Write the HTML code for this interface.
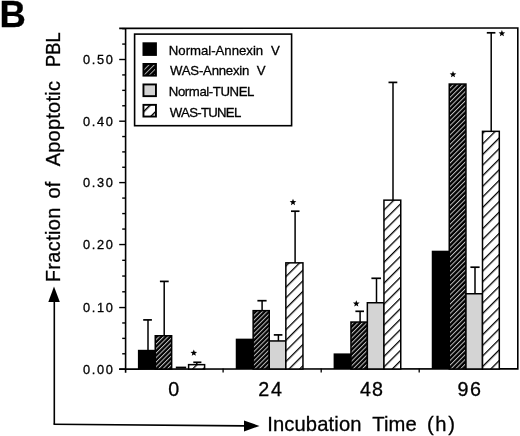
<!DOCTYPE html>
<html><head><meta charset="utf-8"><title>Fraction of Apoptotic PBL</title>
<style>html,body{margin:0;padding:0;background:#fff;width:520px;height:436px;overflow:hidden}svg{display:block;filter:blur(0.3px)}text{white-space:pre}</style>
</head><body>
<svg width="520" height="436" viewBox="0 0 520 436">
<defs><pattern id="pL2" patternUnits="userSpaceOnUse" x="0.020" y="0" width="3.677" height="10" patternTransform="rotate(45)"><rect x="0" y="0" width="3.677" height="10" fill="#000"/><rect x="0" y="0" width="0.95" height="10" fill="#a8a8a8"/></pattern><pattern id="pL4" patternUnits="userSpaceOnUse" x="1.608" y="0" width="8.485" height="10" patternTransform="rotate(45)"><rect x="0" y="0" width="8.485" height="10" fill="#fff"/><rect x="0" y="0" width="1.45" height="10" fill="#000"/></pattern><pattern id="pA0" patternUnits="userSpaceOnUse" x="3.177" y="0" width="3.182" height="10" patternTransform="rotate(45)"><rect x="0" y="0" width="3.182" height="10" fill="#000"/><rect x="0" y="0" width="1.0" height="10" fill="#c0c0c0"/></pattern><pattern id="pA1" patternUnits="userSpaceOnUse" x="1.268" y="0" width="3.182" height="10" patternTransform="rotate(45)"><rect x="0" y="0" width="3.182" height="10" fill="#000"/><rect x="0" y="0" width="1.0" height="10" fill="#c0c0c0"/></pattern><pattern id="pA2" patternUnits="userSpaceOnUse" x="2.541" y="0" width="3.253" height="10" patternTransform="rotate(45)"><rect x="0" y="0" width="3.253" height="10" fill="#000"/><rect x="0" y="0" width="1.0" height="10" fill="#c0c0c0"/></pattern><pattern id="pA3" patternUnits="userSpaceOnUse" x="1.056" y="0" width="3.323" height="10" patternTransform="rotate(45)"><rect x="0" y="0" width="3.323" height="10" fill="#000"/><rect x="0" y="0" width="1.0" height="10" fill="#c0c0c0"/></pattern><pattern id="pT0" patternUnits="userSpaceOnUse" x="6.704" y="0" width="7.495" height="10" patternTransform="rotate(45)"><rect x="0" y="0" width="7.495" height="10" fill="#fff"/><rect x="0" y="0" width="1.3" height="10" fill="#000"/></pattern><pattern id="pT1" patternUnits="userSpaceOnUse" x="6.605" y="0" width="7.509" height="10" patternTransform="rotate(45)"><rect x="0" y="0" width="7.509" height="10" fill="#fff"/><rect x="0" y="0" width="1.3" height="10" fill="#000"/></pattern><pattern id="pT2" patternUnits="userSpaceOnUse" x="5.177" y="0" width="7.396" height="10" patternTransform="rotate(45)"><rect x="0" y="0" width="7.396" height="10" fill="#fff"/><rect x="0" y="0" width="1.3" height="10" fill="#000"/></pattern><pattern id="pT3" patternUnits="userSpaceOnUse" x="0.199" y="0" width="7.495" height="10" patternTransform="rotate(45)"><rect x="0" y="0" width="7.495" height="10" fill="#fff"/><rect x="0" y="0" width="1.3" height="10" fill="#000"/></pattern></defs>
<g font-family="'Liberation Sans', sans-serif" fill="#000" stroke="#000" stroke-width="0.3">
<text x="-0.40" y="26.80" font-size="36.5" font-weight="bold">B</text>
<text transform="translate(60.30,282.20) rotate(-90)" font-size="20.0" textLength="74.65" lengthAdjust="spacing">Fraction</text>
<text transform="translate(60.30,198.40) rotate(-90)" font-size="20.0" textLength="16.79" lengthAdjust="spacing">of</text>
<text transform="translate(60.30,166.30) rotate(-90)" font-size="20.0" textLength="85.19" lengthAdjust="spacing">Apoptotic</text>
<text transform="translate(60.30,66.93) rotate(-90)" font-size="20.0" textLength="34.57" lengthAdjust="spacingAndGlyphs">PBL</text>
<text x="267.20" y="431.30" font-size="20.2" textLength="94.27" lengthAdjust="spacing">Incubation</text>
<text x="372.20" y="431.30" font-size="20.2" textLength="44.62" lengthAdjust="spacing">Time</text>
<text x="427.00" y="431.30" font-size="20.2" textLength="27.89" lengthAdjust="spacing">(h)</text>
<text x="168.20" y="395.80" font-size="19.7">0</text>
<text x="258.30" y="395.80" font-size="19.7" textLength="23.61" lengthAdjust="spacing">24</text>
<text x="359.90" y="395.80" font-size="19.7" textLength="23.01" lengthAdjust="spacing">48</text>
<text x="457.50" y="395.80" font-size="19.7" textLength="23.51" lengthAdjust="spacing">96</text>
<text x="83.00" y="374.00" font-size="12.8" textLength="29.92" lengthAdjust="spacing">0.00</text>
<text x="83.00" y="312.35" font-size="12.8" textLength="29.92" lengthAdjust="spacing">0.10</text>
<text x="83.00" y="249.35" font-size="12.8" textLength="29.92" lengthAdjust="spacing">0.20</text>
<text x="83.00" y="187.40" font-size="12.8" textLength="29.92" lengthAdjust="spacing">0.30</text>
<text x="83.00" y="126.00" font-size="12.8" textLength="29.92" lengthAdjust="spacing">0.40</text>
<text x="83.00" y="64.30" font-size="12.8" textLength="29.92" lengthAdjust="spacing">0.50</text>
<text x="168.80" y="54.80" font-size="13.2" textLength="94.36" lengthAdjust="spacing">Normal-Annexin</text>
<text x="271.05" y="54.80" font-size="13.2">V</text>
<text x="170.00" y="75.40" font-size="13.2" textLength="79.41" lengthAdjust="spacing">WAS-Annexin</text>
<text x="256.80" y="75.40" font-size="13.2">V</text>
<text x="168.80" y="96.00" font-size="13.2" textLength="85.62" lengthAdjust="spacing">Normal-TUNEL</text>
<text x="169.80" y="116.60" font-size="13.2" textLength="71.49" lengthAdjust="spacing">WAS-TUNEL</text>
</g>
<line x1="54.3" y1="424.2" x2="54.3" y2="300" stroke="#000" stroke-width="1.6"/>
<polygon points="48.3,302 59.8,302 54,286.5" fill="#000"/>
<line x1="53.5" y1="424.2" x2="245" y2="425.9" stroke="#000" stroke-width="1.6"/>
<polygon points="244,420.5 244,431.4 259.5,426" fill="#000"/>
<path d="M119.2,28.35 L517.8,27.95 L517.8,369.2 M125.6,28.3 L125.6,372.7 M119.2,369.1 L518.6,368.9" fill="none" stroke="#000" stroke-width="1.6"/>
<line x1="119.2" y1="369.20" x2="125.6" y2="369.20" stroke="#000" stroke-width="1.4"/>
<line x1="122.2" y1="353.79" x2="125.6" y2="353.79" stroke="#000" stroke-width="1.4"/>
<line x1="122.2" y1="338.38" x2="125.6" y2="338.38" stroke="#000" stroke-width="1.4"/>
<line x1="122.2" y1="322.96" x2="125.6" y2="322.96" stroke="#000" stroke-width="1.4"/>
<line x1="119.2" y1="307.55" x2="125.6" y2="307.55" stroke="#000" stroke-width="1.4"/>
<line x1="122.2" y1="291.80" x2="125.6" y2="291.80" stroke="#000" stroke-width="1.4"/>
<line x1="122.2" y1="276.05" x2="125.6" y2="276.05" stroke="#000" stroke-width="1.4"/>
<line x1="122.2" y1="260.30" x2="125.6" y2="260.30" stroke="#000" stroke-width="1.4"/>
<line x1="119.2" y1="244.55" x2="125.6" y2="244.55" stroke="#000" stroke-width="1.4"/>
<line x1="122.2" y1="229.06" x2="125.6" y2="229.06" stroke="#000" stroke-width="1.4"/>
<line x1="122.2" y1="213.58" x2="125.6" y2="213.58" stroke="#000" stroke-width="1.4"/>
<line x1="122.2" y1="198.09" x2="125.6" y2="198.09" stroke="#000" stroke-width="1.4"/>
<line x1="119.2" y1="182.60" x2="125.6" y2="182.60" stroke="#000" stroke-width="1.4"/>
<line x1="122.2" y1="167.25" x2="125.6" y2="167.25" stroke="#000" stroke-width="1.4"/>
<line x1="122.2" y1="151.90" x2="125.6" y2="151.90" stroke="#000" stroke-width="1.4"/>
<line x1="122.2" y1="136.55" x2="125.6" y2="136.55" stroke="#000" stroke-width="1.4"/>
<line x1="119.2" y1="121.20" x2="125.6" y2="121.20" stroke="#000" stroke-width="1.4"/>
<line x1="122.2" y1="105.77" x2="125.6" y2="105.77" stroke="#000" stroke-width="1.4"/>
<line x1="122.2" y1="90.35" x2="125.6" y2="90.35" stroke="#000" stroke-width="1.4"/>
<line x1="122.2" y1="74.92" x2="125.6" y2="74.92" stroke="#000" stroke-width="1.4"/>
<line x1="119.2" y1="59.50" x2="125.6" y2="59.50" stroke="#000" stroke-width="1.4"/>
<line x1="122.2" y1="44.08" x2="125.6" y2="44.08" stroke="#000" stroke-width="1.4"/>
<line x1="122.2" y1="28.65" x2="125.6" y2="28.65" stroke="#000" stroke-width="1.4"/>
<line x1="223.1" y1="368.5" x2="223.1" y2="372.6" stroke="#000" stroke-width="1.3"/>
<line x1="321.2" y1="368.5" x2="321.2" y2="372.6" stroke="#000" stroke-width="1.3"/>
<line x1="419.2" y1="368.5" x2="419.2" y2="372.6" stroke="#000" stroke-width="1.3"/>
<rect x="134.6" y="34.1" width="157" height="91.6" fill="none" stroke="#000" stroke-width="1.6"/>
<rect x="143.45" y="43.25" width="12.5" height="11.7" fill="#000" stroke="#000" stroke-width="1.9"/>
<rect x="143.45" y="63.95" width="12.5" height="11.7" fill="url(#pL2)" stroke="#000" stroke-width="1.9"/>
<rect x="143.45" y="84.45" width="12.5" height="11.7" fill="#d4d4d4" stroke="#000" stroke-width="1.9"/>
<rect x="143.45" y="104.85" width="12.5" height="11.7" fill="url(#pL4)" stroke="#000" stroke-width="1.9"/>
<rect x="137.90" y="349.80" width="18.10" height="19.20" fill="#000"/>
<rect x="155.25" y="335.75" width="16.40" height="33.25" fill="url(#pA0)" stroke="#000" stroke-width="1.5"/>
<line x1="175.8" y1="367.6" x2="186.2" y2="367.6" stroke="#000" stroke-width="2"/>
<rect x="188.60" y="364.65" width="16.00" height="4.35" fill="url(#pT0)" stroke="#000" stroke-width="1.5"/>
<rect x="235.75" y="338.65" width="18.15" height="30.35" fill="#000"/>
<rect x="253.15" y="310.65" width="16.10" height="58.35" fill="url(#pA1)" stroke="#000" stroke-width="1.5"/>
<rect x="269.25" y="340.95" width="16.60" height="28.05" fill="#d4d4d4" stroke="#000" stroke-width="1.5"/>
<rect x="285.85" y="262.85" width="17.10" height="106.15" fill="url(#pT1)" stroke="#000" stroke-width="1.5"/>
<rect x="333.60" y="353.40" width="18.10" height="15.60" fill="#000"/>
<rect x="350.95" y="322.05" width="16.40" height="46.95" fill="url(#pA2)" stroke="#000" stroke-width="1.5"/>
<rect x="367.35" y="302.75" width="16.60" height="66.25" fill="#d4d4d4" stroke="#000" stroke-width="1.5"/>
<rect x="383.95" y="200.15" width="16.80" height="168.85" fill="url(#pT2)" stroke="#000" stroke-width="1.5"/>
<rect x="431.75" y="250.70" width="18.25" height="118.30" fill="#000"/>
<rect x="449.25" y="84.05" width="16.70" height="284.95" fill="url(#pA3)" stroke="#000" stroke-width="1.5"/>
<rect x="465.95" y="293.75" width="16.55" height="75.25" fill="#d4d4d4" stroke="#000" stroke-width="1.5"/>
<rect x="482.50" y="131.35" width="16.80" height="237.65" fill="url(#pT3)" stroke="#000" stroke-width="1.5"/>
<line x1="148.0" y1="319.9" x2="148.0" y2="350.6" stroke="#000" stroke-width="1.5"/>
<line x1="143.20000000000002" y1="319.9" x2="151.9" y2="319.9" stroke="#000" stroke-width="1.7"/>
<line x1="164.2" y1="281.4" x2="164.2" y2="335.8" stroke="#000" stroke-width="1.5"/>
<line x1="159.9" y1="281.4" x2="168.7" y2="281.4" stroke="#000" stroke-width="1.7"/>
<line x1="196.8" y1="362.3" x2="196.8" y2="364.6" stroke="#000" stroke-width="1.5"/>
<line x1="193.3" y1="362.3" x2="201.4" y2="362.3" stroke="#000" stroke-width="1.7"/>
<line x1="262.1" y1="300.7" x2="262.1" y2="310.7" stroke="#000" stroke-width="1.5"/>
<line x1="257.4" y1="300.7" x2="266.6" y2="300.7" stroke="#000" stroke-width="1.7"/>
<line x1="278.4" y1="334.9" x2="278.4" y2="341.0" stroke="#000" stroke-width="1.5"/>
<line x1="273.79999999999995" y1="334.9" x2="282.40000000000003" y2="334.9" stroke="#000" stroke-width="1.7"/>
<line x1="295.1" y1="211.2" x2="295.1" y2="262.9" stroke="#000" stroke-width="1.5"/>
<line x1="291.0" y1="211.2" x2="299.5" y2="211.2" stroke="#000" stroke-width="1.7"/>
<line x1="360.1" y1="311.3" x2="360.1" y2="322.0" stroke="#000" stroke-width="1.5"/>
<line x1="355.4" y1="311.3" x2="364.0" y2="311.3" stroke="#000" stroke-width="1.7"/>
<line x1="376.5" y1="278.3" x2="376.5" y2="302.8" stroke="#000" stroke-width="1.5"/>
<line x1="371.4" y1="278.3" x2="381.0" y2="278.3" stroke="#000" stroke-width="1.7"/>
<line x1="393.0" y1="82.4" x2="393.0" y2="200.2" stroke="#000" stroke-width="1.5"/>
<line x1="388.5" y1="82.4" x2="397.3" y2="82.4" stroke="#000" stroke-width="1.7"/>
<line x1="475.0" y1="267.2" x2="475.0" y2="293.8" stroke="#000" stroke-width="1.5"/>
<line x1="470.4" y1="267.2" x2="479.6" y2="267.2" stroke="#000" stroke-width="1.7"/>
<line x1="491.2" y1="32.8" x2="491.2" y2="131.4" stroke="#000" stroke-width="1.5"/>
<line x1="486.79999999999995" y1="32.8" x2="495.40000000000003" y2="32.8" stroke="#000" stroke-width="1.7"/>
<polygon points="193.80,349.50 194.68,351.79 197.13,351.92 195.23,353.46 195.86,355.83 193.80,354.50 191.74,355.83 192.37,353.46 190.47,351.92 192.92,351.79" fill="#000"/>
<polygon points="293.00,198.80 293.88,201.09 296.33,201.22 294.43,202.76 295.06,205.13 293.00,203.80 290.94,205.13 291.57,202.76 289.67,201.22 292.12,201.09" fill="#000"/>
<polygon points="356.30,300.20 357.18,302.49 359.63,302.62 357.73,304.16 358.36,306.53 356.30,305.20 354.24,306.53 354.87,304.16 352.97,302.62 355.42,302.49" fill="#000"/>
<polygon points="453.00,71.00 453.88,73.29 456.33,73.42 454.43,74.96 455.06,77.33 453.00,76.00 450.94,77.33 451.57,74.96 449.67,73.42 452.12,73.29" fill="#000"/>
<polygon points="501.90,30.00 502.78,32.29 505.23,32.42 503.33,33.96 503.96,36.33 501.90,35.00 499.84,36.33 500.47,33.96 498.57,32.42 501.02,32.29" fill="#000"/>
</svg>
</body></html>
